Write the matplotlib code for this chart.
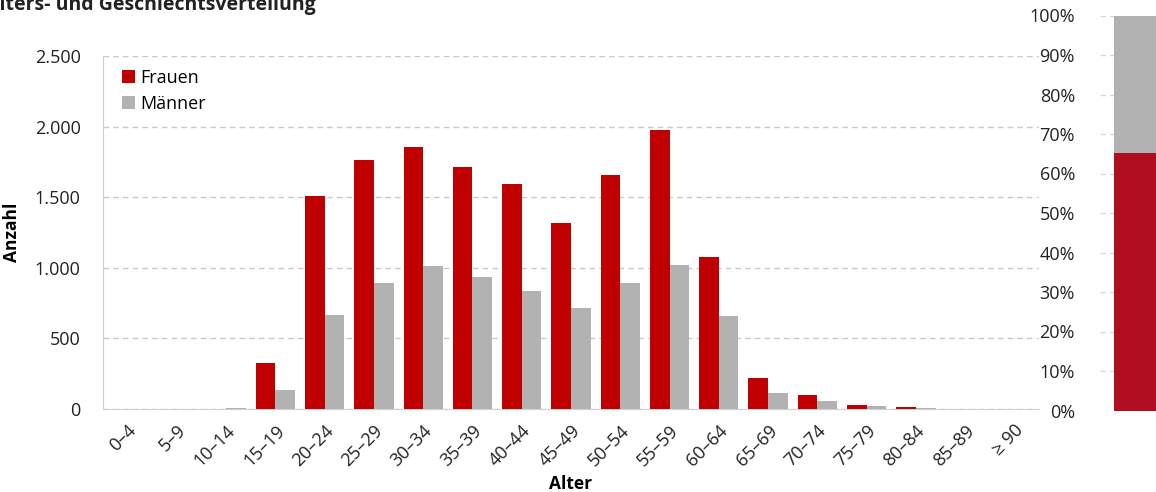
import numpy as np
import matplotlib.pyplot as plt
from matplotlib.ticker import FuncFormatter

# Altersgruppen und Anzahl je Geschlecht
altersgruppen = ["0–4", "5–9", "10–14", "15–19", "20–24", "25–29", "30–34", "35–39",
                 "40–44", "45–49", "50–54", "55–59", "60–64", "65–69", "70–74",
                 "75–79", "80–84", "85–89", "≥ 90"]
frauen = [0, 0, 1, 326, 1508, 1763, 1855, 1714, 1593, 1317, 1657, 1976, 1076,
          220, 99, 28, 12, 3, 0]
maenner = [0, 0, 5, 135, 666, 892, 1013, 935, 836, 715, 892, 1020, 659,
           115, 59, 21, 10, 2, 1]

# Anteil gesamt (rechts)
anteil_frauen = 65.2
anteil_maenner = 100 - anteil_frauen

rot = "#c00000"
grau = "#b2b2b2"
rot_dunkel = "#b00f22"

plt.rcParams['font.family'] = ['Open Sans', 'DejaVu Sans']

W, H = 1156, 492
fig = plt.figure(figsize=(W / 100, H / 100), dpi=100)

# Hauptdiagramm
ax = fig.add_axes([103 / W, 1 - 409 / H, (1039 - 103) / W, (409 - 56) / H])
x = np.arange(len(altersgruppen))
ax.bar(x - 0.2, frauen, width=0.4, color=rot, label="Frauen", zorder=3)
ax.bar(x + 0.2, maenner, width=0.4, color=grau, label="Männer", zorder=3)
ax.set_xlim(-0.5, len(altersgruppen) - 0.5)
ax.set_ylim(0, 2500)
ax.set_yticks(np.arange(0, 2501, 500))
ax.yaxis.set_major_formatter(FuncFormatter(lambda v, p: f"{int(v):,}".replace(",", ".")))
ax.grid(axis="y", color="#c8c8c8", linestyle=(0, (4, 3)), linewidth=1, zorder=0)
for s in ["top", "right"]:
    ax.spines[s].set_visible(False)
for s in ["left", "bottom"]:
    ax.spines[s].set_color("#d0d0d0")
ax.tick_params(axis="both", length=0, labelsize=13, colors="#222222")
ax.tick_params(axis="y", pad=16)
ax.set_xticks(x)
ax.set_xticklabels(altersgruppen, rotation=45, ha="right", rotation_mode="anchor")
ax.tick_params(axis="x", pad=9)
ax.set_xlabel("Alter", fontsize=12.5, fontweight="bold", labelpad=4)
ax.set_ylabel("Anzahl", fontsize=12.5, fontweight="bold", labelpad=10)
ax.legend(loc="upper left", frameon=False, fontsize=13, handlelength=0.7,
          handleheight=0.7, handletextpad=0.3, labelspacing=0.45,
          bbox_to_anchor=(0.003, 1.01))

# Anteil rechts
ax2 = fig.add_axes([1100 / W, 1 - 410.5 / H, 70 / W, 395 / H])
ax2.bar([0.6], [anteil_frauen], width=0.8, color=rot_dunkel, zorder=3)
ax2.bar([0.6], [anteil_maenner], bottom=[anteil_frauen], width=0.8, color=grau, zorder=3)
ax2.set_xlim(0, 1)
ax2.set_ylim(0, 100)
ax2.set_yticks(np.arange(0, 101, 10))
ax2.yaxis.set_major_formatter(FuncFormatter(lambda v, p: f"{int(v)}%"))
ax2.set_xticks([])
ax2.grid(axis="y", color="#d8d8d8", linestyle=(0, (4, 3)), linewidth=1, zorder=0)
for s in ax2.spines.values():
    s.set_visible(False)
ax2.tick_params(axis="y", length=0, labelsize=13, colors="#222222", pad=18)

fig.text(-14 / W, 1 - 10 / H, "Alters- und Geschlechtsverteilung", fontsize=14,
         fontweight="bold", va="baseline", ha="left", color="#222222")

fig.savefig("out.png", dpi=100)
